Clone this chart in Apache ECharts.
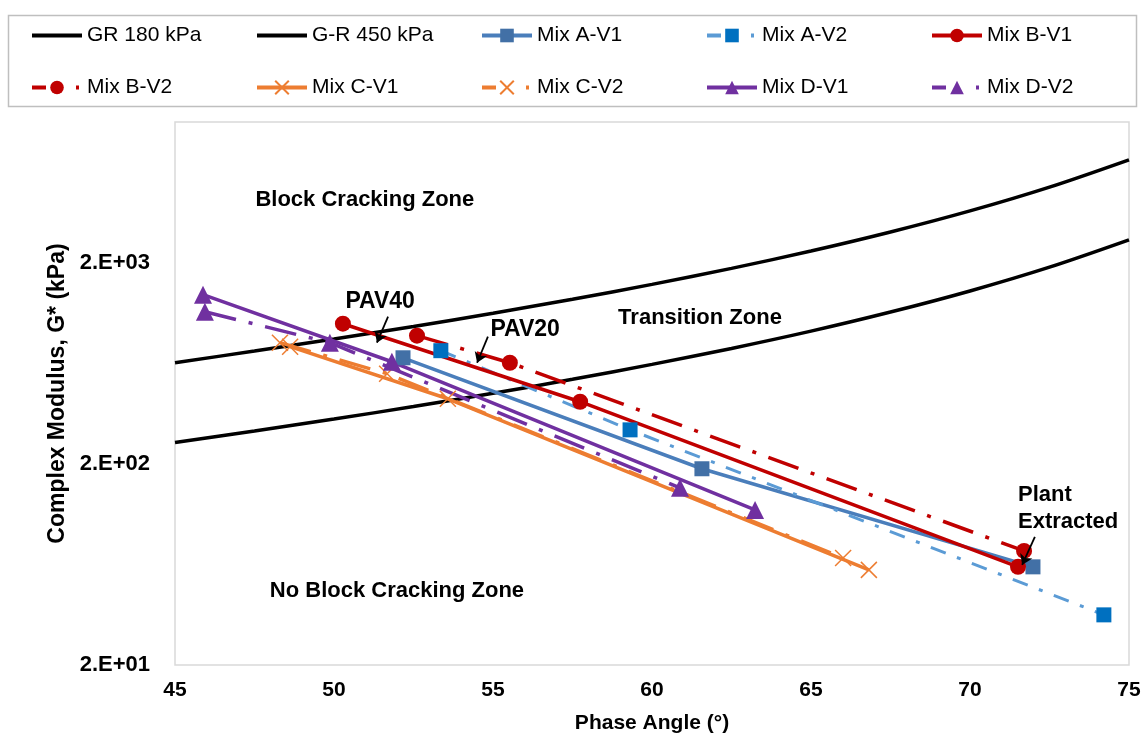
<!DOCTYPE html>
<html>
<head>
<meta charset="utf-8">
<script src="https://cdn.jsdelivr.net/npm/echarts@6/dist/echarts.min.js"></script>
<style>
  html, body { margin: 0; padding: 0; background: #ffffff; }
  #chart { width: 1146px; height: 740px; }
</style>
</head>
<body>
<div id="chart"></div>
<script>
// Glover-Rowe damage curves: G* (kPa) against phase angle (deg)
const grPhase = [45, 47.5, 50, 52.5, 55, 57.5, 60, 62.5, 65, 67.5, 70, 72.5, 75];
const gr180 = [255, 291, 334, 385, 448, 526, 624, 749, 913, 1136, 1446, 1899, 2596];
const gr450 = [636, 727, 834, 963, 1121, 1315, 1559, 1872, 2284, 2840, 3615, 4747, 6489];

// Mix results: phase angle (deg) and complex modulus G* (kPa)
const mixAV1Phase = [52.17, 61.57, 71.98];
const mixAV1G     = [673, 189, 61.5];
const mixAV2Phase = [53.36, 59.31, 74.21];
const mixAV2G     = [730, 295, 35.5];
const mixBV1Phase = [50.28, 57.74, 71.51];
const mixBV1G     = [994, 407, 61.5];
const mixBV2Phase = [52.61, 55.53, 71.70];
const mixBV2G     = [867, 636, 73.8];
const mixCV1Phase = [48.62, 53.58, 66.82];
const mixCV1G     = [764, 421, 59.4];
const mixCV2Phase = [48.30, 51.67, 66.01];
const mixCV2G     = [800, 561, 68.1];
const mixDV1Phase = [45.88, 51.82, 63.24];
const mixDV1G     = [1386, 643, 118];
const mixDV2Phase = [45.94, 49.87, 60.88];
const mixDV2G     = [1140, 800, 152];

// Axis ranges and tick labels
const xMin = 45, xMax = 75, xStep = 5;
const gMin = 20, gMax = 10000;
const yTickLabels = ['2.E+01', '2.E+02', '2.E+03'];

// Legend layout: five columns of two entries
const legendColumns = [
  ['GR 180 kPa', 'Mix B-V2'],
  ['G-R 450 kPa', 'Mix C-V1'],
  ['Mix A-V1', 'Mix C-V2'],
  ['Mix A-V2', 'Mix D-V1'],
  ['Mix B-V1', 'Mix D-V2']
];
const curveNames = ['GR 180 kPa', 'G-R 450 kPa'];
const dashedNames = ['Mix A-V2', 'Mix B-V2', 'Mix C-V2', 'Mix D-V2'];

const FONT = "'Liberation Sans', Arial, Helvetica, sans-serif";

const zip = (xs, ys) => xs.map((x, i) => [x, ys[i]]);

const DASH_LONG = [32, 13, 4, 13];
const DASH_SHORT = [16, 12, 4, 12];
const CROSS = 'path://M0,0L10,10M10,0L0,10';

function mixSeries(name, xs, ys, opts) {
  return {
    name: name,
    type: 'line',
    data: zip(xs, ys),
    symbol: opts.symbol,
    symbolSize: opts.symbolSize,
    showSymbol: true,
    z: 3,
    lineStyle: { color: opts.lineColor, width: opts.width || 3.5, type: opts.dash || 'solid' },
    itemStyle: {
      color: opts.markerColor,
      borderColor: opts.markerColor,
      borderWidth: opts.borderWidth || 0
    },
    emphasis: { disabled: true },
    animation: false
  };
}

// Legend entry: curves show a bare line, second-version mixes a dash, marker and dot
function legendEntry(name) {
  if (curveNames.indexOf(name) >= 0) {
    return { name: name, itemStyle: { opacity: 0 } };
  }
  if (dashedNames.indexOf(name) >= 0) {
    return { name: name, lineStyle: { type: [14, 30, 3, 10] } };
  }
  return { name: name };
}

const chart = echarts.init(document.getElementById('chart'), null, { renderer: 'canvas' });

// Annotation arrows, in data coordinates [phase, G*]
const arrows = [
  [[51.70, 1078], [51.35, 800]],
  [[54.84, 857], [54.50, 636]],
  [[72.04, 86.7], [71.64, 62.9]]
];

const option = {
  backgroundColor: '#ffffff',
  animation: false,
  grid: {
    left: 175, right: 17, top: 122, bottom: 75,
    show: true, borderColor: '#d9d9d9', borderWidth: 1.5,
    containLabel: false, outerBoundsMode: 'none'
  },
  legend: legendColumns.map((names, i) => ({
    data: names.map(legendEntry),
    orient: 'vertical',
    left: 25 + i * 225,
    top: 20,
    itemWidth: 50,
    itemHeight: 17,
    itemGap: 31,
    selectedMode: false,
    lineStyle: { width: 4 },
    textStyle: { fontFamily: FONT, fontSize: 21, color: '#000000' }
  })),
  xAxis: {
    type: 'value',
    min: xMin, max: xMax, interval: xStep,
    name: 'Phase Angle (°)',
    nameLocation: 'middle',
    nameGap: 48,
    nameTextStyle: { fontFamily: FONT, fontSize: 21, fontWeight: 'bold', color: '#000' },
    axisLine: { show: false },
    axisTick: { show: false },
    splitLine: { show: false },
    axisLabel: { fontFamily: FONT, fontSize: 21, fontWeight: 'bold', color: '#000', margin: 15 }
  },
  yAxis: [
    {
      // log scale carrying the data
      type: 'log', logBase: 10,
      min: gMin, max: gMax,
      position: 'left',
      axisLine: { show: false },
      axisTick: { show: false },
      axisLabel: { show: false },
      splitLine: { show: false },
      minorSplitLine: { show: false }
    },
    {
      // decade scale (log10(G*/20)) used for the tick labels
      type: 'value',
      min: 0, max: Math.log10(gMax / gMin), interval: 1,
      position: 'left',
      name: 'Complex Modulus, G* (kPa)',
      nameLocation: 'middle',
      nameGap: 106,
      nameRotate: 90,
      nameTextStyle: { fontFamily: FONT, fontSize: 23, fontWeight: 'bold', color: '#000' },
      axisLine: { show: false },
      axisTick: { show: false },
      splitLine: { show: false },
      axisLabel: {
        fontFamily: FONT, fontSize: 22, fontWeight: 'bold', color: '#000', margin: 25,
        formatter: function (v) {
          const k = Math.round(v);
          return Math.abs(v - k) < 1e-6 && yTickLabels[k] ? yTickLabels[k] : '';
        }
      }
    }
  ],
  series: [
    {
      name: 'GR 180 kPa', type: 'line', data: zip(grPhase, gr180),
      smooth: 0.3, showSymbol: false, symbol: 'none', z: 2,
      lineStyle: { color: '#000000', width: 3.5 },
      itemStyle: { color: '#000000' },
      emphasis: { disabled: true },
      markLine: {
        silent: true,
        symbol: ['none', 'arrow'],
        symbolSize: 10,
        label: { show: false },
        lineStyle: { color: '#000000', width: 1.8, type: 'solid' },
        data: arrows.map(a => [{ coord: a[0] }, { coord: a[1] }]),
        animation: false
      }
    },
    {
      name: 'G-R 450 kPa', type: 'line', data: zip(grPhase, gr450),
      smooth: 0.3, showSymbol: false, symbol: 'none', z: 2,
      lineStyle: { color: '#000000', width: 3.5 },
      itemStyle: { color: '#000000' },
      emphasis: { disabled: true }
    },
    mixSeries('Mix A-V1', mixAV1Phase, mixAV1G, { symbol: 'rect', symbolSize: 15, lineColor: '#4a7ebb', markerColor: '#4270a6' }),
    mixSeries('Mix A-V2', mixAV2Phase, mixAV2G, { symbol: 'rect', symbolSize: 15, lineColor: '#5b9bd5', markerColor: '#0070c0', dash: DASH_SHORT, width: 3 }),
    mixSeries('Mix B-V1', mixBV1Phase, mixBV1G, { symbol: 'circle', symbolSize: 16, lineColor: '#c00000', markerColor: '#c00000' }),
    mixSeries('Mix B-V2', mixBV2Phase, mixBV2G, { symbol: 'circle', symbolSize: 16, lineColor: '#c00000', markerColor: '#c00000', dash: DASH_LONG }),
    mixSeries('Mix C-V1', mixCV1Phase, mixCV1G, { symbol: CROSS, symbolSize: 16, lineColor: '#ed7d31', markerColor: '#ed7d31', borderWidth: 1.5 }),
    mixSeries('Mix C-V2', mixCV2Phase, mixCV2G, { symbol: CROSS, symbolSize: 16, lineColor: '#ed7d31', markerColor: '#ed7d31', borderWidth: 1.5, dash: DASH_LONG }),
    mixSeries('Mix D-V1', mixDV1Phase, mixDV1G, { symbol: 'triangle', symbolSize: 18, lineColor: '#7030a0', markerColor: '#7030a0' }),
    mixSeries('Mix D-V2', mixDV2Phase, mixDV2G, { symbol: 'triangle', symbolSize: 18, lineColor: '#7030a0', markerColor: '#7030a0', dash: DASH_LONG })
  ]
};

chart.setOption(option);

// Text annotations placed at data coordinates
const notes = [
  { text: 'Block Cracking Zone', at: [50.97, 4114], align: 'center', size: 22 },
  { text: 'Transition Zone', at: [61.51, 1066], align: 'center', size: 22 },
  { text: 'No Block Cracking Zone', at: [51.98, 46.7], align: 'center', size: 22 },
  { text: 'PAV40', at: [51.45, 1279], align: 'center', size: 23 },
  { text: 'PAV20', at: [56.01, 928], align: 'center', size: 23 },
  { text: 'Plant\nExtracted', at: [71.51, 120], align: 'left', size: 22 }
];

const toPx = p => chart.convertToPixel({ xAxisIndex: 0, yAxisIndex: 0 }, p);

chart.setOption({
  graphic: [
    {
      type: 'rect', silent: true,
      shape: { x: 8.5, y: 15.5, width: 1128, height: 91 },
      style: { fill: 'none', stroke: '#bfbfbf', lineWidth: 1.5 }
    }
  ].concat(notes.map(n => {
    const p = toPx(n.at);
    return {
      type: 'text', silent: true,
      x: p[0], y: p[1],
      style: {
        text: n.text, fill: '#000000',
        font: 'bold ' + n.size + 'px ' + FONT,
        align: n.align, verticalAlign: 'middle', lineHeight: 27
      }
    };
  }))
});
</script>
</body>
</html>
